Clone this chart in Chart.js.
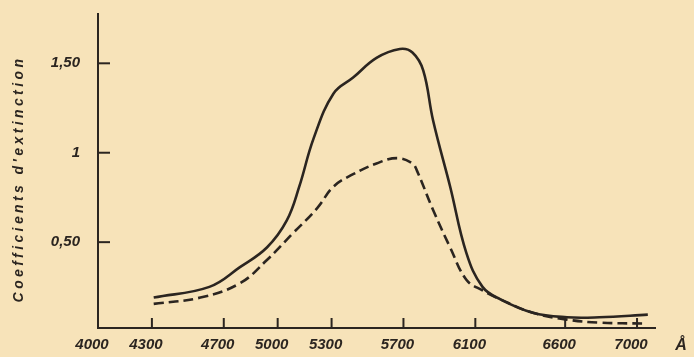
<!DOCTYPE html>
<html>
<head>
<meta charset="utf-8">
<script src="https://cdn.jsdelivr.net/npm/chart.js@4/dist/chart.umd.min.js"></script>
<style>
  body { margin: 0; background: #f7e3b9; }
  #wrap { width: 694px; height: 357px; }
</style>
</head>
<body>
<div id="wrap"><canvas id="chart" width="694" height="357"></canvas></div>
<script>
// values
const xTicks = [4000, 4300, 4700, 5000, 5300, 5700, 6100, 6600, 7000];
const yTicks = [0.5, 1, 1.5];
const yTickText = {0.5: '0,50', 1: '1', 1.5: '1,50'};

const solid_x = [4310, 4620, 4790, 4940, 5050, 5120, 5200, 5310, 5420, 5550, 5680, 5750, 5810, 5865, 5960, 6050, 6140, 6240, 6420, 6610, 6790, 7060];
const solid_y = [0.19, 0.25, 0.36, 0.47, 0.62, 0.81, 1.08, 1.33, 1.42, 1.53, 1.58, 1.56, 1.46, 1.18, 0.81, 0.44, 0.25, 0.18, 0.105, 0.08, 0.08, 0.095];

const dashed_x = [4310, 4570, 4790, 4940, 5085, 5220, 5310, 5420, 5550, 5665, 5750, 5775, 5865, 5960, 6050, 6140, 6240, 6420, 6610, 6790, 7045];
const dashed_y = [0.155, 0.19, 0.27, 0.40, 0.55, 0.69, 0.81, 0.88, 0.94, 0.97, 0.94, 0.90, 0.68, 0.47, 0.29, 0.23, 0.18, 0.105, 0.067, 0.05, 0.045];

const ink = '#2b2520';
const paper = '#f7e3b9';

function toPoints(xs, ys) {
  return xs.map((x, i) => ({x: x, y: ys[i]}));
}

//paper, inward ticks, y title and the unit sign
const paperPlugin = {
  id: 'paper',
  beforeDraw(chart) {
    const c = chart.ctx;
    c.save();
    c.fillStyle = paper;
    c.fillRect(0, 0, chart.width, chart.height);
    c.restore();
  },
  afterDraw(chart) {
    const c = chart.ctx;
    const xs = chart.scales.x, ys = chart.scales.y;
    const area = chart.chartArea;
    c.save();
    c.strokeStyle = ink;
    c.lineWidth = 2;
    // y axis goes a bit higher than the scale top
    c.beginPath();
    c.moveTo(area.left, area.top + 1);
    c.lineTo(area.left, 13);
    c.stroke();
    xTicks.forEach(v => {
      if (v == 4000) return;
      const px = xs.getPixelForValue(v);
      c.beginPath();
      c.moveTo(px, area.bottom);
      c.lineTo(px, area.bottom - 10);
      c.stroke();
    });
    yTicks.forEach(v => {
      const py = ys.getPixelForValue(v);
      c.beginPath();
      c.moveTo(area.left, py);
      c.lineTo(area.left + 12, py);
      c.stroke();
    });

    c.fillStyle = ink;
    c.font = 'italic bold 16px "Liberation Sans"';
    c.textAlign = 'center';
    c.textBaseline = 'middle';
    c.fillText('\u00C5', 681, 346);

    c.translate(19, 179);
    c.rotate(-Math.PI / 2);
    c.letterSpacing = '3.4px';
    c.font = 'italic bold 14px "Liberation Sans"';
    c.fillText("Coefficients d'extinction", 0, 0);
    c.restore();
  }
};

new Chart(document.getElementById('chart'), {
  type: 'line',
  data: {
    datasets: [
      {
        data: toPoints(solid_x, solid_y),
        borderColor: ink,
        borderWidth: 2.6,
        pointRadius: 0,
        tension: 0.4,
        fill: false
      },
      {
        data: toPoints(dashed_x, dashed_y),
        borderColor: ink,
        borderWidth: 2.6,
        borderDash: [10, 5],
        pointRadius: 0,
        tension: 0.4,
        fill: false
      }
    ]
  },
  options: {
    responsive: false,
    animation: false,
    layout: { padding: { left: 0, right: 39, top: 0, bottom: 0 } },
    plugins: { legend: { display: false }, tooltip: { enabled: false } },
    scales: {
      x: {
        type: 'linear',
        min: 4000,
        max: 7100,
        afterBuildTicks: axis => { axis.ticks = xTicks.map(v => ({value: v})); },
        afterFit: axis => { axis.height = 29; },
        grid: { display: false, drawTicks: false },
        border: { display: true, color: ink, width: 2 },
        ticks: {
          color: ink,
          padding: 8,
          labelOffset: -6,
          maxRotation: 0,
          autoSkip: false,
          font: { family: 'Liberation Sans', size: 15, style: 'italic', weight: 'bold' },
          callback: v => String(v)
        }
      },
      y: {
        min: 0.02,
        max: 1.703,
        afterBuildTicks: axis => { axis.ticks = yTicks.map(v => ({value: v})); },
        afterFit: axis => { axis.width = 98; },
        grid: { display: false, drawTicks: false },
        border: { display: true, color: ink, width: 2 },
        ticks: {
          color: ink,
          padding: 18,
          font: { family: 'Liberation Sans', size: 15, style: 'italic', weight: 'bold' },
          callback: v => yTickText[v]
        }
      }
    }
  },
  plugins: [paperPlugin]
});
</script>
</body>
</html>
